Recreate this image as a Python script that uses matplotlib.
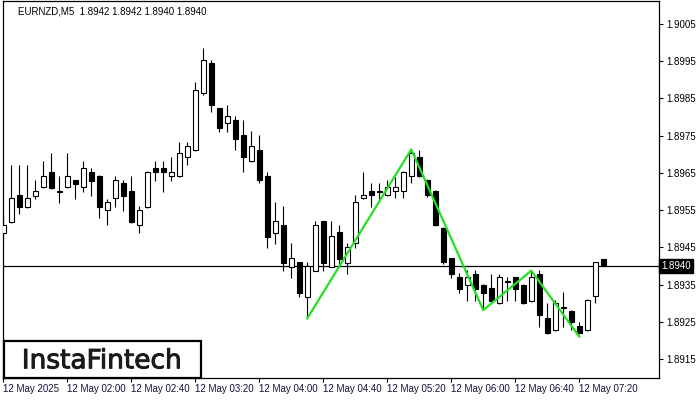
import matplotlib
matplotlib.use("Agg")
import matplotlib.pyplot as plt
from matplotlib.patches import Rectangle
import matplotlib.transforms as mtransforms
import matplotlib.patheffects as pe

symbol_title = "EURNZD,M5  1.8942 1.8942 1.8940 1.8940"

opens = [1.89490, 1.89519, 1.89591, 1.89559, 1.89589, 1.89611, 1.89652, 1.89602, 1.89611, 1.89630,
         1.89611, 1.89652, 1.89642, 1.89551, 1.89582, 1.89623, 1.89601, 1.89510, 1.89559, 1.89662,
         1.89662, 1.89641, 1.89641, 1.89693, 1.89711, 1.89863, 1.89944, 1.89823, 1.89783, 1.89792,
         1.89752, 1.89681, 1.89711, 1.89642, 1.89490, 1.89510, 1.89399, 1.89411, 1.89318, 1.89388,
         1.89520, 1.89399, 1.89492, 1.89409, 1.89461, 1.89582, 1.89601, 1.89601, 1.89590, 1.89601,
         1.89601, 1.89642, 1.89692, 1.89631, 1.89601, 1.89501, 1.89421, 1.89370, 1.89349, 1.89380,
         1.89349, 1.89341, 1.89300, 1.89360, 1.89370, 1.89349, 1.89307, 1.89380, 1.89260, 1.89229,
         1.89291, 1.89280, 1.89240, 1.89229, 1.89320, 1.89420]
highs = [1.89533, 1.89671, 1.89671, 1.89671, 1.89631, 1.89682, 1.89703, 1.89642, 1.89703, 1.89632,
         1.89682, 1.89662, 1.89644, 1.89581, 1.89642, 1.89631, 1.89642, 1.89561, 1.89654, 1.89682,
         1.89682, 1.89693, 1.89733, 1.89733, 1.89894, 1.89985, 1.89952, 1.89825, 1.89831, 1.89802,
         1.89792, 1.89762, 1.89752, 1.89653, 1.89572, 1.89561, 1.89462, 1.89412, 1.89411, 1.89520,
         1.89522, 1.89520, 1.89510, 1.89462, 1.89590, 1.89652, 1.89622, 1.89622, 1.89631, 1.89640,
         1.89654, 1.89711, 1.89711, 1.89634, 1.89603, 1.89505, 1.89423, 1.89381, 1.89390, 1.89390,
         1.89351, 1.89380, 1.89380, 1.89370, 1.89372, 1.89351, 1.89390, 1.89390, 1.89300, 1.89309,
         1.89331, 1.89282, 1.89249, 1.89311, 1.89412, 1.89420]
lows = [1.89465, 1.89515, 1.89540, 1.89555, 1.89580, 1.89609, 1.89608, 1.89570, 1.89609, 1.89581,
        1.89600, 1.89589, 1.89530, 1.89510, 1.89559, 1.89549, 1.89517, 1.89490, 1.89557, 1.89629,
        1.89600, 1.89629, 1.89639, 1.89671, 1.89709, 1.89860, 1.89812, 1.89760, 1.89760, 1.89711,
        1.89652, 1.89679, 1.89622, 1.89449, 1.89460, 1.89388, 1.89369, 1.89318, 1.89260, 1.89386,
        1.89388, 1.89397, 1.89399, 1.89378, 1.89449, 1.89580, 1.89559, 1.89571, 1.89588, 1.89582,
        1.89582, 1.89622, 1.89640, 1.89586, 1.89508, 1.89405, 1.89369, 1.89329, 1.89307, 1.89307,
        1.89282, 1.89305, 1.89298, 1.89307, 1.89307, 1.89298, 1.89305, 1.89238, 1.89218, 1.89227,
        1.89238, 1.89229, 1.89218, 1.89227, 1.89300, 1.89400]
closes = [1.89510, 1.89582, 1.89559, 1.89582, 1.89601, 1.89642, 1.89610, 1.89600, 1.89641, 1.89621,
          1.89662, 1.89629, 1.89559, 1.89571, 1.89630, 1.89589, 1.89519, 1.89551, 1.89652, 1.89652,
          1.89652, 1.89652, 1.89703, 1.89721, 1.89871, 1.89952, 1.89831, 1.89771, 1.89802, 1.89742,
          1.89692, 1.89721, 1.89630, 1.89479, 1.89520, 1.89409, 1.89421, 1.89329, 1.89400, 1.89510,
          1.89409, 1.89481, 1.89420, 1.89451, 1.89571, 1.89590, 1.89590, 1.89600, 1.89611, 1.89611,
          1.89652, 1.89703, 1.89642, 1.89590, 1.89510, 1.89410, 1.89378, 1.89340, 1.89370, 1.89340,
          1.89329, 1.89307, 1.89370, 1.89358, 1.89340, 1.89300, 1.89370, 1.89269, 1.89220, 1.89300,
          1.89289, 1.89249, 1.89220, 1.89309, 1.89410, 1.89400]

pattern_idx = [38, 51, 60, 66, 72]
pattern_price = [1.89260, 1.89713, 1.89282, 1.89388, 1.89211]

current_price = 1.8940
ytick_values = [1.8915, 1.8925, 1.8935, 1.8945, 1.8955, 1.8965, 1.8975, 1.8985, 1.8995, 1.9005]
xtick_idx = [0, 8, 16, 24, 32, 40, 48, 56, 64, 72]
xtick_labels = ["12 May 2025", "12 May 02:00", "12 May 02:40", "12 May 03:20", "12 May 04:00",
                "12 May 04:40", "12 May 05:20", "12 May 06:00", "12 May 06:40", "12 May 07:20"]

W, H = 700, 400
fig = plt.figure(figsize=(7, 4), dpi=100)
fig.patch.set_facecolor("white")
ax_l, ax_r, ax_t, ax_b = 3, 659, 1, 378
ax = fig.add_axes([ax_l / W, (H - ax_b) / H, (ax_r - ax_l) / W, (ax_b - ax_t) / H])

FONT = "Liberation Sans"
xs = list(range(len(opens)))

ax.vlines(xs, lows, highs, color="black", linewidth=0.8, zorder=2)
for i in xs:
    o, c = opens[i], closes[i]
    bottom = min(o, c)
    height = max(abs(c - o), 0.000005)
    fc = "white" if c >= o else "black"
    ax.add_patch(Rectangle((i - 0.28, bottom), 0.56, height, facecolor=fc,
                           edgecolor="black", linewidth=0.8, zorder=3))

ax.axhline(current_price, color="black", linewidth=0.9, zorder=1)
ax.plot(pattern_idx, pattern_price, color="#22e022", linewidth=1.6, zorder=4)

ax.set_xlim((ax_l - 3.3) / 8, (ax_r - 3.3) / 8)
ax.set_ylim(1.891001, 1.901109)

for s in ax.spines.values():
    s.set_color("black")
    s.set_linewidth(0.9)

ax.yaxis.tick_right()
ax.set_yticks(ytick_values)
ax.set_yticklabels([f"{v:.4f}" for v in ytick_values], fontsize=7, family=FONT, color="#111111")
ax.tick_params(axis="y", direction="out", length=3, width=0.8, pad=2.5, colors="black")
ax.set_xticks(xtick_idx)
ax.set_xticklabels(xtick_labels, fontsize=7, family=FONT, color="#111133", ha="left")
ax.tick_params(axis="x", direction="out", length=3, width=0.8, pad=1.5)
for lbl in ax.get_xticklabels():
    lbl.set_horizontalalignment("left")

trans = mtransforms.blended_transform_factory(ax.transAxes, ax.transData)
ax.text(1.004, current_price, "1.8940", transform=trans, fontsize=7, family=FONT,
        color="white", va="center", ha="left", zorder=10, clip_on=False,
        bbox=dict(boxstyle="square,pad=0.22", fc="black", ec="black"))

fig.text(17.7 / W, 1 - 11 / H, symbol_title, fontsize=7, family=FONT, color="black",
         ha="left", va="center")

fig.patches.append(Rectangle((3.5 / W, (H - 377.5) / H), (201 - 3.5) / W, (377.5 - 340.5) / H,
                             transform=fig.transFigure, facecolor="white", edgecolor="black",
                             linewidth=1.6, zorder=20))
fig.text(102 / W, (H - 368.3) / H, "InstaFintech", fontsize=19, family="DejaVu Sans",
         color="#1a1a1a", ha="center", va="baseline", zorder=21,
         path_effects=[pe.withStroke(linewidth=0.7, foreground="#1a1a1a")])

fig.savefig("out.png", dpi=100)
